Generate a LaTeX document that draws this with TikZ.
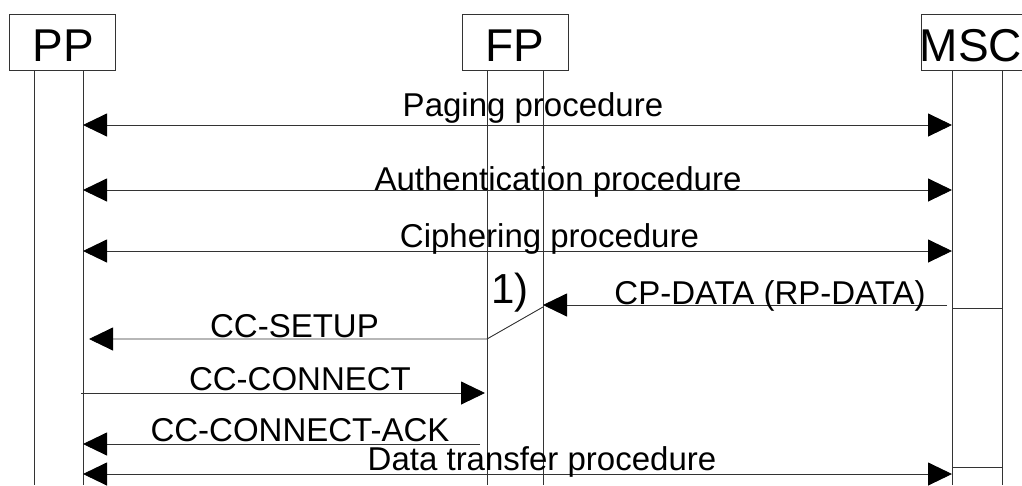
\documentclass[tikz,border=0pt]{standalone}
\usepackage{fontspec}
\setmainfont{Liberation Sans}
\usetikzlibrary{arrows.meta}
\begin{document}
\begin{tikzpicture}[x=1pt,y=-1pt,
  line width=0.9pt,
  ln/.style={draw=black!80},
  ent/.style={draw=black!80,minimum width=106pt,minimum height=56pt,inner sep=0pt,anchor=north west},
  enttxt/.style={font=\fontsize{46}{46}\selectfont,anchor=base,inner sep=0pt},
  lbl/.style={font=\fontsize{33}{33}\selectfont,anchor=base,inner sep=0pt},
  tip/.tip={Triangle[length=24pt,width=23pt,black]},
  msg/.style={draw=black!80,-tip},
  msgb/.style={draw=black!80,tip-tip}
]
\useasboundingbox (0,0) rectangle (1022,485);
% entities
\node[ent] (ppbox) at (9,14) {};
\node[ent] (fpbox) at (462,14) {};
\node[ent] (mscbox) at (921,14) {};
\node[enttxt] (pptxt) at (63.5,61.7) {PP};
\node[enttxt] (fptxt) at (515,61.7) {FP};
\node[enttxt] (msctxt) at (971,61.7) {MSC};
% lifeline coordinates
\coordinate (ppA0) at (34,70);   \coordinate (ppA1) at (34,485);
\coordinate (ppB0) at (83,70);   \coordinate (ppB1) at (83,485);
\coordinate (fpA0) at (487,70);  \coordinate (fpA1) at (487,485);
\coordinate (fpB0) at (543,70);  \coordinate (fpB1) at (543,485);
\coordinate (msA0) at (952,70);  \coordinate (msA1) at (952,485);
\coordinate (msB0) at (1002,70); \coordinate (msB1) at (1002,485);
\draw[ln] (ppA0) -- (ppA1);
\draw[ln] (ppB0) -- (ppB1);
\draw[ln] (fpA0) -- (fpA1);
\draw[ln] (fpB0) -- (fpB1);
\draw[ln] (msA0) -- (msA1);
\draw[ln] (msB0) -- (msB1);
% message end points
\coordinate (pg1) at (83,125);  \coordinate (pg2) at (952,125);
\coordinate (au1) at (83,190);  \coordinate (au2) at (952,190);
\coordinate (ci1) at (83,251);  \coordinate (ci2) at (952,251);
\coordinate (cp1) at (947,305); \coordinate (cp2) at (543,305);
\coordinate (su0) at (543,307); \coordinate (su1) at (487,339); \coordinate (su2) at (89,339);
\coordinate (cn1) at (81,393);  \coordinate (cn2) at (485,393);
\coordinate (ck1) at (480,444); \coordinate (ck2) at (83,444);
\coordinate (dt1) at (83,474);  \coordinate (dt2) at (952,474);
\coordinate (m1a) at (952,308); \coordinate (m1b) at (1002,308);
\coordinate (m2a) at (952,467); \coordinate (m2b) at (1002,467);
% messages
\draw[msgb] (pg1) -- (pg2);
\draw[msgb] (au1) -- (au2);
\draw[msgb] (ci1) -- (ci2);
\draw[msg] (cp1) -- (cp2);
\draw[msg] (su0) -- (su1) -- (su2);
\draw[msg] (cn1) -- (cn2);
\draw[msg] (ck1) -- (ck2);
\draw[msgb] (dt1) -- (dt2);
\draw[ln] (m1a) -- (m1b);
\draw[ln] (m2a) -- (m2b);
% labels
\node[lbl] (lpg) at (533,116) {Paging procedure};
\node[lbl] (lau) at (558,190) {Authentication procedure};
\node[lbl] (lci) at (549.5,247) {Ciphering procedure};
\node[lbl] (lcp) at (770,304) {CP-DATA (RP-DATA)};
\node[lbl] (lsu) at (294.5,337) {CC-SETUP};
\node[lbl] (lcn) at (300,390) {CC-CONNECT};
\node[lbl] (lck) at (300,441) {CC-CONNECT-ACK};
\node[lbl] (ldt) at (542,470) {Data transfer procedure};
\node[enttxt,font=\fontsize{42}{42}\selectfont] (one) at (510,303) {1)};
\end{tikzpicture}
\end{document}
